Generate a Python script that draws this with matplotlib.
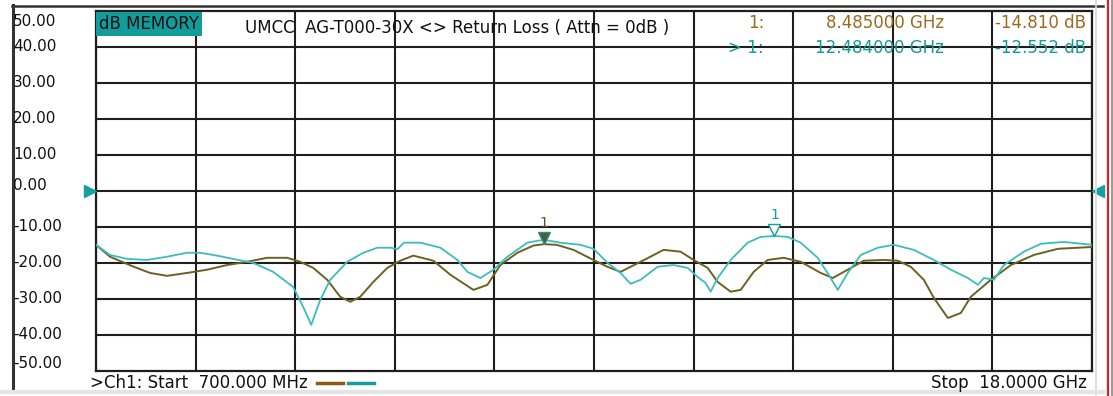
import numpy as np
import matplotlib
matplotlib.use("Agg")
import matplotlib.pyplot as plt
import matplotlib.transforms as mtransforms
from matplotlib.lines import Line2D

# ---------------- data ----------------
start_ghz = 0.7
stop_ghz = 18.0
y_min, y_max = -50, 50
y_tick_values = [50, 40, 30, 20, 10, 0, -10, -20, -30, -40, -50]
y_tick_labels = ["50.00", "40.00", "30.00", "20.00", "10.00", "0.00",
                 "-10.00", "-20.00", "-30.00", "-40.00", "-50.00"]

# current trace (teal)
teal_freq = [0.70, 0.943, 1.239, 1.587, 1.934, 2.282, 2.508, 2.804, 3.082, 3.430,
             3.778, 4.125, 4.299, 4.438, 4.595, 4.768, 5.064, 5.342, 5.586, 5.812,
             5.936, 6.05, 6.334, 6.682, 6.977, 7.151, 7.377, 7.603, 7.846, 8.194,
             8.472, 8.767, 9.115, 9.341, 9.585, 9.811, 9.985, 10.159, 10.454, 10.732,
             10.976, 11.150, 11.289, 11.376, 11.498, 11.724, 12.019, 12.245, 12.484, 12.714,
             12.940, 13.236, 13.427, 13.584, 13.758, 13.984, 14.279, 14.557, 14.905, 15.253,
             15.548, 15.844, 16.018, 16.122, 16.296, 16.470, 16.818, 17.113, 17.513, 18.0]
teal_db = [-15.0, -17.8, -18.9, -19.2, -18.3, -17.2, -17.2, -18.0, -18.9, -20.0,
           -22.5, -26.7, -32.2, -37.2, -30.3, -24.7, -19.7, -17.2, -15.8, -15.8,
           -16.2, -14.4, -14.4, -15.8, -19.2, -22.5, -24.2, -21.9, -18.3, -14.4,
           -13.6, -14.4, -15.0, -16.1, -20.0, -22.8, -25.8, -24.7, -21.1, -20.6,
           -21.4, -23.9, -25.6, -28.0, -24.2, -19.2, -14.4, -12.8, -12.552, -12.8,
           -14.4, -18.6, -23.3, -27.5, -22.8, -17.8, -15.8, -15.0, -16.4, -19.2,
           -21.9, -24.2, -26.1, -24.2, -24.7, -20.6, -16.9, -14.7, -14.2, -15.0]

# memory trace (brown)
brown_freq = [0.70, 0.943, 1.343, 1.639, 1.934, 2.282, 2.630, 2.978, 3.325, 3.673,
              4.021, 4.247, 4.473, 4.716, 4.942, 5.116, 5.290, 5.516, 5.760, 5.986,
              6.212, 6.559, 6.855, 7.255, 7.498, 7.724, 8.020, 8.300, 8.485, 8.700,
              8.994, 9.341, 9.585, 9.811, 10.159, 10.559, 10.854, 11.080, 11.324, 11.498,
              11.724, 11.898, 12.123, 12.367, 12.645, 12.940, 13.288, 13.497, 13.758, 14.036,
              14.384, 14.627, 14.853, 15.079, 15.253, 15.496, 15.722, 15.896, 16.244, 16.592,
              16.992, 17.409, 18.0]
brown_db = [-15.0, -18.3, -21.0, -22.8, -23.6, -22.8, -21.9, -20.6, -19.7, -18.6,
            -18.6, -19.7, -21.4, -24.7, -29.4, -30.8, -29.4, -25.3, -21.4, -19.4,
            -18.0, -19.4, -23.3, -27.5, -26.1, -20.6, -17.2, -15.2, -14.81, -15.0,
            -16.4, -19.2, -21.1, -22.5, -19.7, -16.4, -16.9, -19.2, -21.4, -25.3,
            -28.0, -27.5, -22.5, -19.2, -18.6, -19.7, -22.8, -24.2, -21.9, -19.4,
            -19.2, -19.4, -21.1, -24.7, -29.7, -35.3, -33.9, -29.4, -24.7, -20.6,
            -17.8, -16.1, -15.6]

marker_brown = (8.485, -14.810)
marker_teal = (12.484, -12.552)

title_text = "UMCC  AG-T000-30X <> Return Loss ( Attn = 0dB )"
memory_text = "dB MEMORY"
start_text = ">Ch1: Start  700.000 MHz"
stop_text = "Stop  18.0000 GHz"

# ---------------- styles ----------------
W, H = 1113, 396
DPI = 100
TEAL_LINE = "#3dbcbc"
BROWN_LINE = "#6b6222"
TEAL_TXT = "#169a9a"
BROWN_TXT = "#9a6a20"
GRID = "#1e1e1e"
FONT = "DejaVu Sans"
FS = 12
FS_Y = 11

fig = plt.figure(figsize=(W / DPI, H / DPI), dpi=DPI)
fig.patch.set_facecolor("white")

def px(x, y):
    return x / W, 1 - y / H

left, right, top, bottom = 96, 1092, 10.5, 371
ax = fig.add_axes([left / W, 1 - bottom / H, (right - left) / W, (bottom - top) / H])
ax.set_xlim(start_ghz, stop_ghz)
ax.set_ylim(y_min, y_max)
ax.set_xticks(np.linspace(start_ghz, stop_ghz, 11))
ax.set_yticks(np.arange(-40, 50, 10))
ax.grid(True, color=GRID, linewidth=1.5)
ax.tick_params(left=False, bottom=False, labelleft=False, labelbottom=False)
for s in ax.spines.values():
    s.set_color(GRID)
    s.set_linewidth(1.6)

ax.plot(brown_freq, brown_db, color=BROWN_LINE, linewidth=1.4, zorder=3)
ax.plot(teal_freq, teal_db, color=TEAL_LINE, linewidth=1.3, zorder=4)

# markers
off = mtransforms.ScaledTranslation(0, 4.5 / 72, fig.dpi_scale_trans)
ax.plot([marker_brown[0]], [marker_brown[1]], marker="v", ms=8, color="#4a5f38",
        mec="#2e8f7f", mew=1.0, transform=ax.transData + off, zorder=6, clip_on=False)
ax.plot([marker_teal[0]], [marker_teal[1]], marker="v", ms=8, color="white",
        mec=TEAL_TXT, mew=1.0, transform=ax.transData + off, zorder=6, clip_on=False)
off2 = mtransforms.ScaledTranslation(0, 10 / 72, fig.dpi_scale_trans)
ax.text(marker_brown[0], marker_brown[1], "1", color="#5a5020", fontsize=10, family=FONT,
        ha="center", va="bottom", transform=ax.transData + off2, zorder=6)
ax.text(marker_teal[0], marker_teal[1], "1", color=TEAL_TXT, fontsize=10, family=FONT,
        ha="center", va="bottom", transform=ax.transData + off2, zorder=6)

# reference level arrows at 0 dB
ax.plot([start_ghz], [0], marker=">", ms=8, color="#14a0a0",
        transform=ax.transData + mtransforms.ScaledTranslation(-4 / 72, 0, fig.dpi_scale_trans),
        clip_on=False, zorder=7)
ax.plot([stop_ghz], [0], marker="<", ms=8, color="#14a0a0",
        transform=ax.transData + mtransforms.ScaledTranslation(4 / 72, 0, fig.dpi_scale_trans),
        clip_on=False, zorder=7)

# y labels
blend = mtransforms.blended_transform_factory(fig.transFigure, ax.transData)
label_offsets = {50: -11.0, -50: 7.0, 0: 5.0}
for v, lab in zip(y_tick_values, y_tick_labels):
    dy = label_offsets.get(v, 0.0) * 72 / DPI
    tr = blend + mtransforms.ScaledTranslation(0, dy / 72, fig.dpi_scale_trans)
    fig.text(13 / W, v, lab, transform=tr, fontsize=FS_Y, family=FONT,
             ha="left", va="center", color="#111111")

# outer frame lines
fig.add_artist(Line2D([12.5 / W, 12.5 / W], [1 - 5 / H, 1 - 392 / H], color="#333333", lw=2.2))
fig.add_artist(Line2D([12 / W, 1103 / W], [1 - 5.5 / H, 1 - 5.5 / H], color="#333333", lw=1.8))
fig.add_artist(Line2D([1095.5 / W, 1095.5 / W], [0, 1], color="#d8d8d8", lw=1.2))
fig.add_artist(Line2D([1108 / W, 1108 / W], [0, 1], color="#e02020", lw=1.6))
fig.add_artist(Line2D([1111.5 / W, 1111.5 / W], [0, 1], color="#888888", lw=1.2))
fig.add_artist(Line2D([0, 1103 / W], [1 - 392 / H, 1 - 392 / H], color="#e4e4e4", lw=3))

# header texts
fig.text(*px(99, 24), memory_text, fontsize=FS, family=FONT, ha="left", va="center",
         color="#111111", zorder=10,
         bbox=dict(boxstyle="square,pad=0.18", facecolor="#139c9c", edgecolor="none"))
fig.text(*px(245, 28), title_text, fontsize=FS, family=FONT, ha="left", va="center",
         color="#111111", zorder=10)
fig.text(*px(764, 23), "1:", fontsize=FS, family=FONT, ha="right", va="center", color=BROWN_TXT)
fig.text(*px(944, 23), "8.485000 GHz", fontsize=FS, family=FONT, ha="right", va="center", color=BROWN_TXT)
fig.text(*px(1086, 23), "-14.810 dB", fontsize=FS, family=FONT, ha="right", va="center", color=BROWN_TXT)
fig.text(*px(764, 48), "> 1:", fontsize=FS, family=FONT, ha="right", va="center", color=TEAL_TXT)
fig.text(*px(944, 48), "12.484000 GHz", fontsize=FS, family=FONT, ha="right", va="center", color=TEAL_TXT)
fig.text(*px(1086, 48), "-12.552 dB", fontsize=FS, family=FONT, ha="right", va="center", color=TEAL_TXT)

# footer
fig.text(*px(90, 383), start_text, fontsize=FS, family=FONT, ha="left", va="center", color="#111111")
fig.add_artist(Line2D([317 / W, 343 / W], [1 - 383 / H] * 2, color="#8b5a1a", lw=2.5))
fig.add_artist(Line2D([348 / W, 374 / W], [1 - 383 / H] * 2, color="#1a9a9a", lw=2.5))
fig.text(*px(1087, 383), stop_text, fontsize=FS, family=FONT, ha="right", va="center", color="#111111")

fig.savefig("out.png", dpi=DPI, facecolor="white")
